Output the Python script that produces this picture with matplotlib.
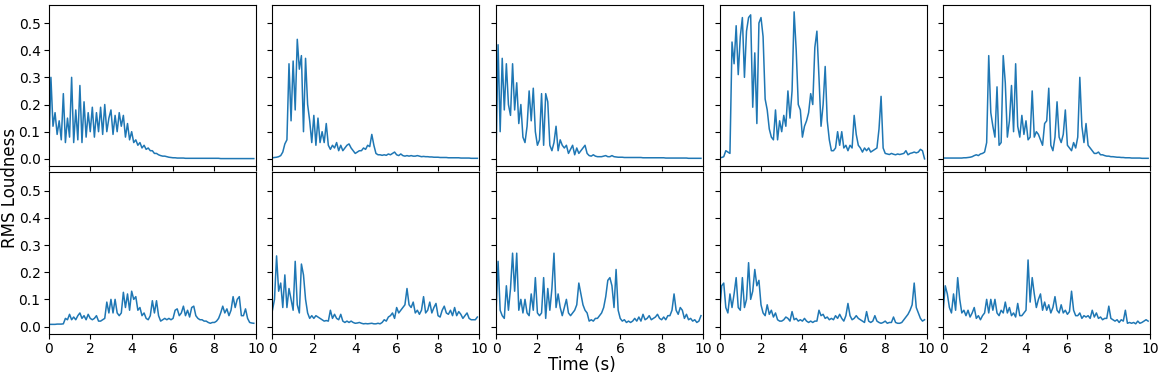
import matplotlib
matplotlib.use("Agg")
import matplotlib.pyplot as plt
import numpy as np

# RMS loudness per clip at 0.1 s steps (0.0 .. 9.9 s)
t = np.arange(100) * 0.1

clip1 = [0.03, 0.30, 0.12, 0.17, 0.09, 0.14, 0.07, 0.24, 0.06, 0.15,
         0.08, 0.30, 0.06, 0.18, 0.07, 0.27, 0.06, 0.21, 0.08, 0.17,
         0.10, 0.19, 0.08, 0.17, 0.10, 0.19, 0.09, 0.20, 0.10, 0.15,
         0.18, 0.09, 0.16, 0.10, 0.17, 0.12, 0.16, 0.08, 0.13, 0.07,
         0.10, 0.06, 0.07, 0.05, 0.06, 0.04, 0.05, 0.035, 0.04, 0.03,
         0.03, 0.02, 0.02, 0.015, 0.012, 0.01, 0.01, 0.008, 0.006, 0.005,
         0.004, 0.004, 0.003, 0.003, 0.003, 0.003, 0.002, 0.002, 0.002, 0.002,
         0.002, 0.002, 0.002, 0.002, 0.002, 0.002, 0.002, 0.002, 0.002, 0.002,
         0.002, 0.002, 0.002, 0.001, 0.001, 0.001, 0.001, 0.001, 0.001, 0.001,
         0.001, 0.001, 0.001, 0.001, 0.001, 0.001, 0.001, 0.001, 0.001, 0.001]

clip2 = [0.004, 0.005, 0.006, 0.008, 0.012, 0.025, 0.055, 0.07, 0.35, 0.14,
         0.36, 0.18, 0.44, 0.33, 0.38, 0.10, 0.37, 0.20, 0.14, 0.06,
         0.16, 0.05, 0.15, 0.06, 0.10, 0.06, 0.13, 0.05, 0.035, 0.05,
         0.04, 0.06, 0.03, 0.05, 0.03, 0.04, 0.05, 0.055, 0.04, 0.03,
         0.02, 0.025, 0.03, 0.03, 0.04, 0.035, 0.05, 0.045, 0.09, 0.05,
         0.02, 0.015, 0.015, 0.013, 0.015, 0.013, 0.018, 0.015, 0.02, 0.025,
         0.015, 0.012, 0.018, 0.012, 0.01, 0.012, 0.01, 0.012, 0.01, 0.01,
         0.012, 0.01, 0.008, 0.009, 0.008, 0.008, 0.007, 0.007, 0.006, 0.006,
         0.006, 0.005, 0.005, 0.005, 0.005, 0.004, 0.004, 0.004, 0.004, 0.004,
         0.004, 0.003, 0.003, 0.003, 0.003, 0.003, 0.002, 0.002, 0.002, 0.002]

clip3 = [0.005, 0.42, 0.10, 0.37, 0.18, 0.35, 0.20, 0.16, 0.35, 0.18,
         0.28, 0.13, 0.20, 0.08, 0.06, 0.12, 0.25, 0.14, 0.26, 0.10,
         0.05, 0.07, 0.24, 0.05, 0.24, 0.21, 0.05, 0.03, 0.06, 0.12,
         0.03, 0.07, 0.05, 0.04, 0.05, 0.02, 0.035, 0.05, 0.015, 0.04,
         0.02, 0.03, 0.04, 0.05, 0.02, 0.012, 0.01, 0.015, 0.01, 0.008,
         0.008, 0.008, 0.01, 0.012, 0.008, 0.008, 0.012, 0.008, 0.007, 0.006,
         0.006, 0.006, 0.005, 0.005, 0.005, 0.005, 0.005, 0.005, 0.005, 0.005,
         0.005, 0.004, 0.004, 0.004, 0.004, 0.004, 0.004, 0.004, 0.004, 0.004,
         0.004, 0.004, 0.003, 0.003, 0.003, 0.003, 0.003, 0.003, 0.003, 0.003,
         0.003, 0.003, 0.003, 0.002, 0.002, 0.002, 0.002, 0.002, 0.002, 0.002]

clip4 = [0.005, 0.005, 0.008, 0.03, 0.025, 0.02, 0.43, 0.35, 0.49, 0.31,
         0.45, 0.52, 0.30, 0.47, 0.52, 0.53, 0.19, 0.39, 0.13, 0.50,
         0.52, 0.45, 0.22, 0.18, 0.11, 0.08, 0.07, 0.18, 0.07, 0.14,
         0.10, 0.16, 0.12, 0.25, 0.15, 0.25, 0.541, 0.40, 0.20, 0.18,
         0.08, 0.12, 0.14, 0.17, 0.24, 0.20, 0.41, 0.47, 0.30, 0.12,
         0.20, 0.34, 0.14, 0.07, 0.03, 0.03, 0.04, 0.10, 0.05, 0.10,
         0.04, 0.05, 0.03, 0.05, 0.04, 0.16, 0.09, 0.05, 0.04, 0.025,
         0.04, 0.03, 0.04, 0.025, 0.03, 0.035, 0.04, 0.11, 0.23, 0.04,
         0.02, 0.018, 0.016, 0.02, 0.017, 0.015, 0.018, 0.016, 0.018, 0.02,
         0.03, 0.015, 0.02, 0.022, 0.025, 0.022, 0.025, 0.035, 0.03, 0.0]

clip5 = [0.003, 0.003, 0.003, 0.003, 0.003, 0.003, 0.003, 0.003, 0.003, 0.003,
         0.004, 0.004, 0.005, 0.006, 0.008, 0.012, 0.015, 0.012, 0.018, 0.02,
         0.025, 0.06, 0.38, 0.17, 0.12, 0.08, 0.265, 0.05, 0.06, 0.38,
         0.28, 0.08, 0.14, 0.27, 0.10, 0.35, 0.12, 0.08, 0.16, 0.09,
         0.14, 0.07, 0.08, 0.25, 0.08, 0.10, 0.09, 0.07, 0.05, 0.13,
         0.14, 0.26, 0.05, 0.03, 0.08, 0.21, 0.08, 0.06, 0.09, 0.18,
         0.05, 0.04, 0.03, 0.06, 0.04, 0.08, 0.30, 0.12, 0.06, 0.13,
         0.05, 0.04, 0.03, 0.02, 0.02, 0.025, 0.015, 0.015, 0.012, 0.01,
         0.01, 0.008, 0.008, 0.007, 0.006, 0.006, 0.005, 0.005, 0.004, 0.004,
         0.004, 0.003, 0.003, 0.003, 0.003, 0.003, 0.002, 0.002, 0.002, 0.002]

clip6 = [0.008, 0.008, 0.008, 0.008, 0.009, 0.009, 0.009, 0.01, 0.03, 0.025,
         0.045, 0.025, 0.035, 0.025, 0.04, 0.05, 0.03, 0.04, 0.025, 0.045,
         0.03, 0.025, 0.03, 0.04, 0.02, 0.02, 0.025, 0.03, 0.09, 0.05,
         0.10, 0.05, 0.10, 0.05, 0.04, 0.05, 0.126, 0.07, 0.12, 0.06,
         0.13, 0.10, 0.11, 0.06, 0.07, 0.04, 0.05, 0.03, 0.025, 0.04,
         0.095, 0.05, 0.095, 0.04, 0.02, 0.025, 0.03, 0.025, 0.03, 0.025,
         0.03, 0.06, 0.065, 0.04, 0.05, 0.075, 0.04, 0.06, 0.035, 0.07,
         0.075, 0.04, 0.03, 0.025, 0.025, 0.02, 0.02, 0.015, 0.012, 0.015,
         0.015, 0.02, 0.03, 0.05, 0.075, 0.05, 0.065, 0.04, 0.06, 0.11,
         0.07, 0.10, 0.11, 0.04, 0.04, 0.065, 0.03, 0.015, 0.013, 0.012]

clip7 = [0.06, 0.10, 0.26, 0.13, 0.16, 0.07, 0.19, 0.07, 0.14, 0.10,
         0.06, 0.24, 0.08, 0.05, 0.23, 0.19, 0.10, 0.05, 0.03, 0.04,
         0.03, 0.04, 0.035, 0.03, 0.025, 0.02, 0.022, 0.02, 0.06, 0.03,
         0.045, 0.03, 0.025, 0.045, 0.02, 0.015, 0.02, 0.015, 0.02, 0.015,
         0.012, 0.013, 0.015, 0.012, 0.01, 0.011, 0.01, 0.011, 0.012, 0.01,
         0.01, 0.012, 0.01, 0.015, 0.025, 0.02, 0.035, 0.04, 0.05, 0.03,
         0.07, 0.05, 0.06, 0.07, 0.08, 0.14, 0.08, 0.07, 0.09, 0.05,
         0.06, 0.045, 0.06, 0.11, 0.05, 0.06, 0.09, 0.05, 0.07, 0.085,
         0.04, 0.035, 0.06, 0.075, 0.05, 0.045, 0.06, 0.04, 0.07, 0.04,
         0.055, 0.045, 0.03, 0.04, 0.05, 0.03, 0.025, 0.025, 0.025, 0.035]

clip8 = [0.05, 0.24, 0.06, 0.04, 0.03, 0.15, 0.06, 0.14, 0.27, 0.13,
         0.27, 0.06, 0.10, 0.05, 0.10, 0.05, 0.04, 0.12, 0.06, 0.18,
         0.05, 0.04, 0.05, 0.18, 0.03, 0.14, 0.06, 0.14, 0.27, 0.07,
         0.12, 0.07, 0.04, 0.07, 0.10, 0.05, 0.04, 0.05, 0.06, 0.08,
         0.16, 0.12, 0.08, 0.06, 0.05, 0.02, 0.025, 0.02, 0.03, 0.03,
         0.04, 0.05, 0.07, 0.11, 0.17, 0.18, 0.15, 0.07, 0.21, 0.06,
         0.03, 0.02, 0.025, 0.015, 0.02, 0.015, 0.02, 0.03, 0.02, 0.035,
         0.02, 0.045, 0.025, 0.03, 0.04, 0.025, 0.03, 0.035, 0.045, 0.03,
         0.025, 0.035, 0.025, 0.04, 0.04, 0.06, 0.12, 0.06, 0.045, 0.07,
         0.06, 0.03, 0.045, 0.025, 0.03, 0.02, 0.025, 0.015, 0.02, 0.04]

clip9 = [0.05, 0.15, 0.16, 0.07, 0.05, 0.12, 0.07, 0.12, 0.18, 0.07,
         0.06, 0.18, 0.07, 0.10, 0.235, 0.10, 0.13, 0.21, 0.15, 0.17,
         0.08, 0.05, 0.04, 0.08, 0.045, 0.06, 0.035, 0.05, 0.025, 0.02,
         0.02, 0.025, 0.035, 0.03, 0.02, 0.055, 0.025, 0.03, 0.02, 0.025,
         0.02, 0.03, 0.02, 0.015, 0.02, 0.015, 0.02, 0.02, 0.06, 0.04,
         0.045, 0.03, 0.035, 0.025, 0.03, 0.025, 0.04, 0.03, 0.045, 0.03,
         0.02, 0.04, 0.085, 0.04, 0.025, 0.03, 0.04, 0.03, 0.025, 0.02,
         0.015, 0.055, 0.02, 0.015, 0.02, 0.04, 0.02, 0.015, 0.012, 0.015,
         0.02, 0.012, 0.015, 0.015, 0.035, 0.015, 0.012, 0.012, 0.015, 0.025,
         0.035, 0.045, 0.06, 0.08, 0.16, 0.07, 0.05, 0.03, 0.02, 0.025]

clip10 = [0.06, 0.15, 0.12, 0.07, 0.05, 0.12, 0.06, 0.18, 0.10, 0.05,
          0.06, 0.04, 0.06, 0.035, 0.05, 0.07, 0.03, 0.04, 0.025, 0.04,
          0.05, 0.10, 0.05, 0.10, 0.06, 0.10, 0.05, 0.04, 0.06, 0.05,
          0.09, 0.05, 0.07, 0.04, 0.05, 0.035, 0.085, 0.04, 0.04, 0.05,
          0.06, 0.245, 0.09, 0.18, 0.12, 0.07, 0.10, 0.12, 0.06, 0.09,
          0.06, 0.08, 0.05, 0.07, 0.11, 0.06, 0.05, 0.08, 0.05, 0.06,
          0.045, 0.055, 0.13, 0.06, 0.04, 0.04, 0.05, 0.03, 0.04, 0.035,
          0.04, 0.03, 0.06, 0.035, 0.05, 0.03, 0.035, 0.025, 0.03, 0.03,
          0.075, 0.03, 0.025, 0.02, 0.025, 0.015, 0.025, 0.02, 0.06, 0.012,
          0.015, 0.012, 0.015, 0.01, 0.02, 0.012, 0.015, 0.02, 0.025, 0.02]

clips = [clip1, clip2, clip3, clip4, clip5, clip6, clip7, clip8, clip9, clip10]
xticks = [0, 2, 4, 6, 8, 10]
yticks = [0.0, 0.1, 0.2, 0.3, 0.4, 0.5]

fig, axes = plt.subplots(2, 5, figsize=(11.63, 3.76), dpi=100, sharex=True, sharey=True)
fig.subplots_adjust(left=0.042, right=0.989, top=0.988, bottom=0.112,
                    wspace=0.08, hspace=0.037)

for ax, y in zip(axes.flat, clips):
    ax.plot(t, y, color='tab:blue', lw=1.1)
    ax.set_xlim(0, 10)
    ax.set_xticks(xticks)
    ax.set_yticks(yticks)
    ax.tick_params(labelsize=10, pad=2.5)

fig.text(0.5, 0.03, 'Time (s)', ha='center', va='center', fontsize=12)
fig.text(0.009, 0.5, 'RMS Loudness', ha='center', va='center', rotation=90, fontsize=12)

fig.savefig('out.png', dpi=100)
